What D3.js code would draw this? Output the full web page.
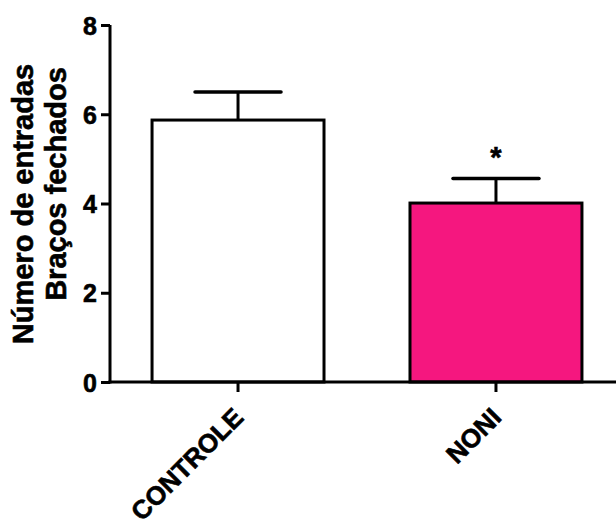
<!DOCTYPE html>
<html>
<head>
<meta charset="utf-8">
<script src="https://cdn.jsdelivr.net/npm/d3@7"></script>
<style>
  html, body { margin: 0; padding: 0; background: #fff; }
  svg { display: block; font-family: "Liberation Sans", Arial, sans-serif; }
  svg text { stroke: #000; stroke-width: 0.6px; paint-order: stroke; }
</style>
</head>
<body>
<svg id="chart" width="616" height="522"></svg>
<script>
// Group names, means and SEM for closed-arm entries
const categories = ["CONTROLE", "NONI"];
const means = [5.87, 4.01];
const errors = [0.63, 0.55];
const fills = ["#ffffff", "#f5177f"];
const significance = ["", "*"];
const yTicks = [0, 2, 4, 6, 8];
const yTitleLines = ["Número de entradas", "Braços fechados"];

(function () {
  const svg = d3.select("#chart");
  const mLeft = 110, mRight = 616, mTop = 25, mBottom = 382;
  const font = "Liberation Sans, Arial, sans-serif";

  const x = d3.scaleBand()
    .domain(categories)
    .range([mLeft, 624])
    .paddingInner(1 / 3)
    .paddingOuter(0.163);

  const y = d3.scaleLinear().domain([0, 8]).range([mBottom, mTop]);

  // Bars
  svg.selectAll("rect.bar")
    .data(categories)
    .join("rect")
    .attr("class", "bar")
    .attr("x", d => x(d))
    .attr("y", (d, i) => y(means[i]))
    .attr("width", x.bandwidth())
    .attr("height", (d, i) => y(0) - y(means[i]))
    .attr("fill", (d, i) => fills[i])
    .attr("stroke", "#000")
    .attr("stroke-width", 3);

  // Error bars (upper half only)
  const eb = svg.selectAll("g.err")
    .data(categories)
    .join("g")
    .attr("class", "err");
  eb.append("line")
    .attr("x1", d => x(d) + x.bandwidth() / 2)
    .attr("x2", d => x(d) + x.bandwidth() / 2)
    .attr("y1", (d, i) => y(means[i]))
    .attr("y2", (d, i) => y(means[i] + errors[i]))
    .attr("stroke", "#000").attr("stroke-width", 3);
  eb.append("line")
    .attr("x1", d => x(d) + x.bandwidth() / 2 - 43)
    .attr("x2", d => x(d) + x.bandwidth() / 2 + 43)
    .attr("y1", (d, i) => y(means[i] + errors[i]))
    .attr("y2", (d, i) => y(means[i] + errors[i]))
    .attr("stroke", "#000").attr("stroke-width", 3.5)
    .attr("stroke-linecap", "round");

  // Significance markers
  svg.selectAll("text.sig")
    .data(categories)
    .join("text")
    .attr("class", "sig")
    .attr("x", d => x(d) + x.bandwidth() / 2)
    .attr("y", (d, i) => y(means[i] + errors[i]) - 12)
    .attr("text-anchor", "middle")
    .attr("font-family", font)
    .attr("font-size", 29)
    .attr("font-weight", "bold")
    .text((d, i) => significance[i]);

  // Y axis
  const yAxis = svg.append("g")
    .attr("transform", `translate(${mLeft},0)`)
    .call(d3.axisLeft(y).tickValues(yTicks).tickSize(9).tickPadding(4).tickSizeOuter(0));
  yAxis.select(".domain").attr("stroke", "#000").attr("stroke-width", 3)
    .attr("d", `M0,${mBottom + 1.5}V${mTop}`);
  yAxis.selectAll(".tick line").attr("stroke", "#000").attr("stroke-width", 3);
  yAxis.selectAll(".tick text")
    .attr("font-size", 25).attr("font-weight", "bold").attr("fill", "#000")
    .attr("font-family", font)
    .attr("dy", "0.36em");

  // X axis
  const xAxis = svg.append("g")
    .attr("transform", `translate(0,${mBottom})`)
    .call(d3.axisBottom(x).tickSize(10).tickSizeOuter(0));
  xAxis.select(".domain").attr("stroke", "#000").attr("stroke-width", 3)
    .attr("d", `M${mLeft - 1.5},0H${mRight}`);
  xAxis.selectAll(".tick line").attr("stroke", "#000").attr("stroke-width", 3);
  xAxis.selectAll(".tick text")
    .attr("font-size", 26).attr("font-weight", "bold").attr("fill", "#000")
    .attr("font-family", font)
    .attr("text-anchor", "end")
    .attr("x", 0).attr("y", 0).attr("dy", 0)
    .attr("transform", "translate(7,37) rotate(-45)");

  // Y axis title (two lines)
  const titlePos = [[33, 204], [66, 184]];
  svg.selectAll("text.ytitle")
    .data(yTitleLines)
    .join("text")
    .attr("class", "ytitle")
    .attr("transform", (d, i) => `translate(${titlePos[i][0]},${titlePos[i][1]}) rotate(-90)`)
    .attr("text-anchor", "middle")
    .attr("font-family", font)
    .attr("font-size", 29)
    .attr("font-weight", "bold")
    .text(d => d);
})();
</script>
</body>
</html>
